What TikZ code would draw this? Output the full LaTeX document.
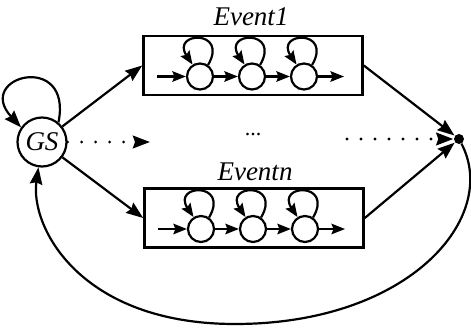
\documentclass[tikz,border=0pt]{standalone}
\usepackage{fontspec}
\setmainfont{Liberation Serif}
\newfontfamily\labelfont{Liberation Serif Italic}
\usetikzlibrary{arrows.meta,calc}

\begin{document}
\begin{tikzpicture}[x=1pt,y=1pt,
  every node/.style={inner sep=0pt},
  conn/.style={line width=2.2pt},
  bigtip/.style={-{Stealth[length=17pt,width=12.5pt,inset=2pt]}},
  smalltip/.style={-{Stealth[length=13.5pt,width=10.5pt,inset=2pt]}},
  gsnode/.style={circle,draw,line width=2.2pt,minimum size=49pt,
    font=\labelfont\fontsize{27}{30}\selectfont},
  substate/.style={circle,draw,line width=2.2pt,minimum size=26pt},
  evbox/.style={rectangle,draw,line width=2.6pt,minimum width=219pt,minimum height=59pt},
  evlabel/.style={anchor=base,font=\labelfont\fontsize{27}{30}\selectfont},
  dotline/.style={line width=3.2pt,line cap=round,dash pattern=on 0pt off 14pt},
  junction/.style={circle,fill,minimum size=10pt}
]
\useasboundingbox (0,0) rectangle (471,327);

% global state and the two event sub-machines
\node[gsnode] (gs) at (42,185) {GS};
\node[evbox] (box1) at (253,261.5) {};
\node[evbox] (box2) at (254,109) {};
\node[junction] (jn) at (459,188) {};

\node[evlabel] (ev1) at ($(box1.north)+(-2,9)$) {Event1};
\node[evlabel] (evn) at ($(box2.north)+(1,7)$) {Eventn};
\node[anchor=base,font=\fontsize{22}{24}\selectfont] (mid) at (253,191.5) {...};

% chain of three states inside each event box
\foreach \b in {box1,box2} {
  \node[substate] (\b-c1) at ($(\b.center)+(-53,-11)$) {};
  \node[substate] (\b-c2) at ($(\b.center)+(-1,-11)$) {};
  \node[substate] (\b-c3) at ($(\b.center)+(51,-11)$) {};
  \coordinate (\b-in) at ($(\b.center)+(-96,-11)$);
  \coordinate (\b-out) at ($(\b.center)+(91,-11)$);
  \draw[conn,smalltip] (\b-in) -- (\b-c1);
  \draw[conn,smalltip] (\b-c1) -- (\b-c2);
  \draw[conn,smalltip] (\b-c2) -- (\b-c3);
  \draw[conn,smalltip] (\b-c3) -- (\b-out);
  \foreach \s in {c1,c2,c3} {
    \draw[conn,smalltip] (\b-\s.55) .. controls +(21,36) and +(-22,33) .. (\b-\s.122);
  }
}

% self loop on GS
\draw[conn,bigtip] (gs.50) .. controls +(14.6,71.6) and +(-47.3,51.2) .. (gs.145);

% GS to the event boxes
\draw[conn,bigtip] (gs) -- (box1.west);
\draw[conn,bigtip] (gs) -- (box2.west);
\coordinate (midend) at (150,185);
\draw[dotline,bigtip] (gs.east) -- (midend);

% event boxes into the junction
\draw[conn,bigtip,shorten >=0.5pt] (box1.east) -- (jn);
\draw[conn,bigtip,shorten >=0.5pt] (box2.east) -- (jn);
\coordinate (rdots) at (347,188);
\draw[dotline,bigtip,shorten >=0.5pt] (rdots) -- (jn);

% return from the junction back to GS
\draw[conn,bigtip] (jn) .. controls (500,110) and (410,3) .. (235,3)
  .. controls (80,3) and (30,100) .. (gs.262);
\end{tikzpicture}
\end{document}
